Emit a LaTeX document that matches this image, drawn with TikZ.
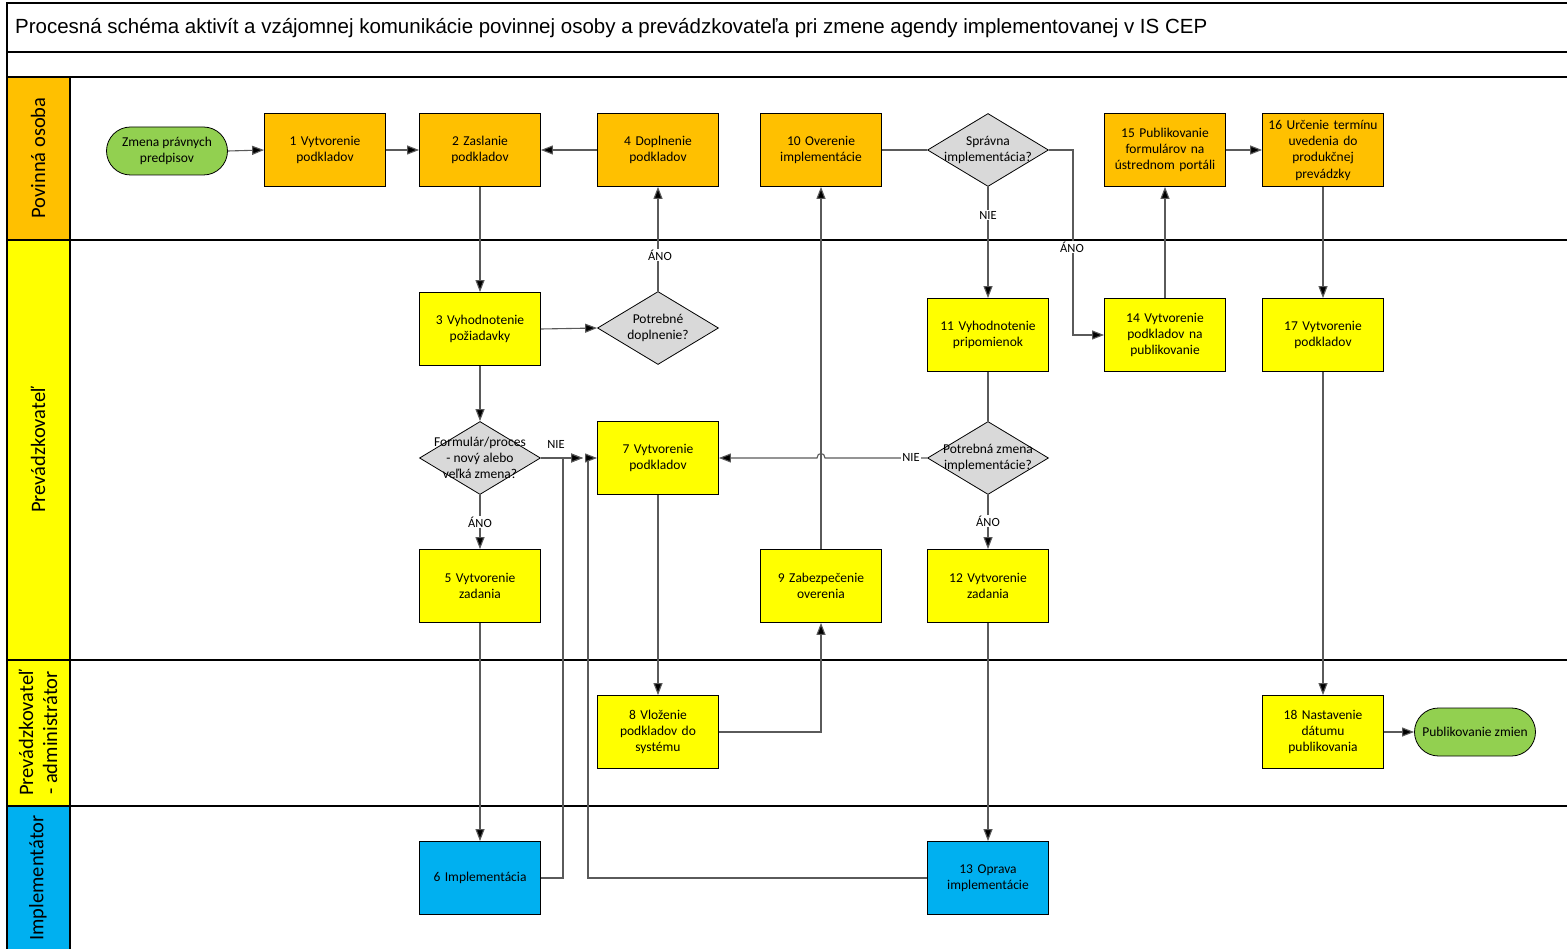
\documentclass[tikz,border=0pt]{standalone}
\usepackage{fontspec}
\setmainfont{Carlito}
\newfontfamily\titlefont{Liberation Sans}
\usetikzlibrary{arrows.meta,shapes.geometric}

\definecolor{orangeF}{HTML}{FFC000}
\definecolor{yellowF}{HTML}{FFFF00}
\definecolor{blueF}{HTML}{00B0F0}
\definecolor{grayF}{HTML}{D9D9D9}
\definecolor{greenF}{HTML}{92D050}
\definecolor{lineC}{HTML}{5A5A5A}

\tikzset{
  frame/.style={draw=black, line width=1.3pt},
  procbox/.style={draw=black, line width=0.8pt, text width=117pt, inner sep=2pt,
    minimum height=73pt, align=center, font=\fontsize{13.5}{16.3}\selectfont},
  topbox/.style={procbox, fill=orangeF},
  midbox/.style={procbox, fill=yellowF},
  implbox/.style={procbox, fill=blueF},
  decision/.style={diamond, draw=black, line width=0.8pt, fill=grayF, inner sep=0pt,
    minimum width=121pt, minimum height=73pt},
  dtext/.style={align=center, font=\fontsize{13.5}{16.3}\selectfont, inner sep=0pt},
  terminal/.style={draw=black, line width=0.8pt, fill=greenF, rounded corners=24pt,
    minimum width=121pt, minimum height=48pt, align=center, font=\fontsize{13.5}{16.3}\selectfont},
  lanelabel/.style={rotate=90, align=center, font=\fontsize{20.5}{24}\selectfont},
  conn/.style={draw=lineC, line width=1.1pt, -{Triangle[length=12pt,width=9pt,fill=black]}},
  plain/.style={draw=lineC, line width=1.1pt},
  lbl/.style={fill=white, inner sep=1pt, font=\fontsize{12.5}{14}\selectfont}
}

\begin{document}
\begin{tikzpicture}[x=1pt,y=-1pt]
\useasboundingbox (0,0) rectangle (1567,949);

% lane header fills
\fill[orangeF] (7,77) rectangle (70,240);
\fill[yellowF] (7,240) rectangle (70,660);
\fill[yellowF] (7,660) rectangle (70,806);
\fill[blueF] (7,806) rectangle (70,949);

% frame, title rows and lane separators
\draw[frame] (7,949) -- (7,3) -- (1567,3);
\draw[frame] (7,52) -- (1567,52);
\draw[frame] (7,77) -- (1567,77);
\draw[frame] (7,240) -- (1567,240);
\draw[frame] (7,660) -- (1567,660);
\draw[frame] (7,806) -- (1567,806);
\draw[frame] (70,77) -- (70,949);

\node[anchor=west, inner sep=0pt, font=\titlefont\fontsize{20.5}{24}\selectfont] (title) at (15,28)
  {Procesná schéma aktivít a vzájomnej komunikácie povinnej osoby a prevádzkovateľa pri zmene agendy implementovanej v IS CEP};

% lane names
\node[lanelabel] (lane1) at (38,158) {Povinná osoba};
\node[lanelabel] (lane2) at (38,450) {Prevádzkovateľ};
\node[lanelabel] (lane3) at (38,733) {Prevádzkovateľ\\- administrátor};
\node[lanelabel] (lane4) at (38,878) {Implementátor};

% Povinná osoba
\node[terminal] (start) at (167,151) {Zmena právnych\\predpisov};
\node[topbox] (n1) at (325,150) {1 Vytvorenie\\podkladov};
\node[topbox] (n2) at (480,150) {2 Zaslanie\\podkladov};
\node[topbox] (n4) at (658,150) {4 Doplnenie\\podkladov};
\node[topbox] (n10) at (821,150) {10 Overenie\\implementácie};
\node[decision] (dS) at (988,150) {};
\node[dtext] (dSt) at (dS) {Správna\\implementácia?};
\node[topbox] (n15) at (1165,150) {15 Publikovanie\\formulárov na\\ústrednom portáli};
\node[topbox] (n16) at (1323,150) {16 Určenie termínu\\uvedenia do\\produkčnej\\prevádzky};

% Prevádzkovateľ
\node[midbox] (n3) at (480,329) {3 Vyhodnotenie\\požiadavky};
\node[decision] (dD) at (658,328) {};
\node[dtext] (dDt) at (dD) {Potrebné\\doplnenie?};
\node[midbox] (n11) at (988,335) {11 Vyhodnotenie\\pripomienok};
\node[midbox] (n14) at (1165,335) {14 Vytvorenie\\podkladov na\\publikovanie};
\node[midbox] (n17) at (1323,335) {17 Vytvorenie\\podkladov};
\node[decision] (dF) at (480,458) {};
\node[dtext] (dFt) at (dF) {Formulár/proces\\- nový alebo\\veľká zmena?};
\node[midbox] (n7) at (658,458) {7 Vytvorenie\\podkladov};
\node[decision] (dZ) at (988,458) {};
\node[dtext] (dZt) at (dZ) {Potrebná zmena\\implementácie?};
\node[midbox] (n5) at (480,586) {5 Vytvorenie\\zadania};
\node[midbox] (n9) at (821,586) {9 Zabezpečenie\\overenia};
\node[midbox] (n12) at (988,586) {12 Vytvorenie\\zadania};

% Prevádzkovateľ - administrátor
\node[midbox] (n8) at (658,732) {8 Vloženie\\podkladov do\\systému};
\node[midbox] (n18) at (1323,732) {18 Nastavenie\\dátumu\\publikovania};
\node[terminal] (stop) at (1475,732) {Publikovanie zmien};

% Implementátor
\node[implbox] (n6) at (480,878) {6 Implementácia};
\node[implbox] (n13) at (988,878) {13 Oprava\\implementácie};

% junction point of the flows entering 7
\coordinate (j7) at (583,458);

% connectors
\draw[conn] (start.east) -- (n1.west);
\draw[conn] (n1.east) -- (n2.west);
\draw[conn] (n4.west) -- (n2.east);
\draw[conn] (n2.south) -- (n3.north);
\draw[conn] (n3.east) -- (dD.west);
\draw[conn] (dD.north) -- (n4.south);
\draw[conn] (n3.south) -- (dF.north);
\draw[conn] (dF.east) -- (j7);
\draw[conn] (dF.south) -- (n5.north);
\draw[conn] (n5.south) -- (n6.north);
\draw[conn] (n6.east) -- (563,878) -- (563,458) -- (j7);
\draw[conn] (n13.west) -- (588,878) -- (588,458) -- (n7.west);
\draw[conn] (n7.south) -- (n8.north);
\draw[conn] (n8.east) -| (n9.south);
\draw[conn] (n9.north) -- (n10.south);
\draw[plain] (n10.east) -- (dS.west);
\draw[conn] (dS.south) -- (n11.north);
\draw[conn] (dS.east) -- (1073,150) -- (1073,335) -- (n14.west);
\draw[conn] (n14.north) -- (n15.south);
\draw[conn] (n15.east) -- (n16.west);
\draw[conn] (n16.south) -- (n17.north);
\draw[conn] (n17.south) -- (n18.north);
\draw[conn] (n18.east) -- (stop.west);
\draw[plain] (n11.south) -- (dZ.north);
\draw[conn] (dZ.west) -- (825,458) .. controls (825,452) and (817,452) .. (817,458) -- (n7.east);
\draw[conn] (dZ.south) -- (n12.north);
\draw[conn] (n12.south) -- (n13.north);

% branch labels
\node[lbl] (l1) at (660,255) {ÁNO};
\node[lbl, fill=none] (l2) at (556,444) {NIE};
\node[lbl] (l3) at (480,522) {ÁNO};
\node[lbl] (l4) at (988,215) {NIE};
\node[lbl] (l5) at (1072,247) {ÁNO};
\node[lbl] (l6) at (911,457) {NIE};
\node[lbl] (l7) at (988,521) {ÁNO};
\end{tikzpicture}
\end{document}
